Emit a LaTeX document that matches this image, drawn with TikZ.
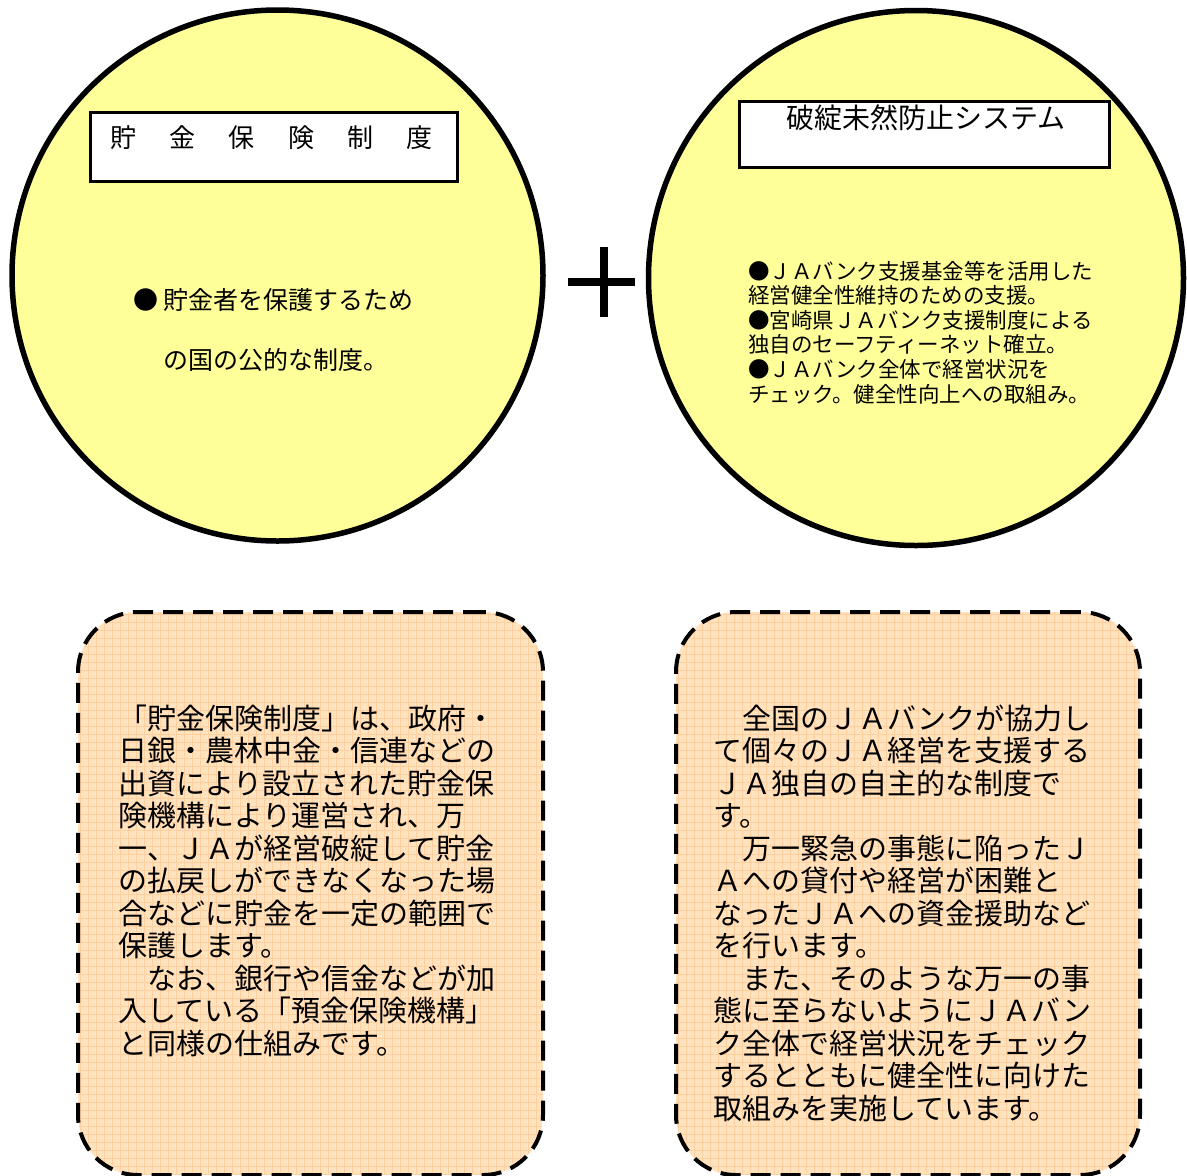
\documentclass[tikz,border=0pt]{standalone}
\usepackage{fontspec}
\newfontfamily\jp{Noto Sans CJK JP}
\definecolor{discyellow}{RGB}{255,255,153}
\definecolor{peach}{RGB}{255,226,190}
\definecolor{peachgrid}{RGB}{255,207,160}
\begin{document}
\begin{tikzpicture}[x=1pt,y=-1pt,
  yellowdisc/.style={circle,draw=black,line width=5.5pt,fill=discyellow,inner sep=0pt},
  titlebox/.style={rectangle,draw=black,line width=3pt,fill=white,inner sep=0pt},
  memobox/.style={rectangle,draw=black,line width=4pt,dash pattern=on 20pt off 10pt,rounded corners=60pt,inner sep=0pt,minimum height=563pt},
  memotext/.style={font=\jp\fontsize{29}{29}\selectfont,anchor=base west,inner sep=0pt},
  disctext/.style={font=\jp\fontsize{21.5}{21.5}\selectfont,anchor=base west,inner sep=0pt},
  leadtext/.style={font=\jp\fontsize{25}{25}\selectfont,anchor=base west,inner sep=0pt},
  gridline/.style={peachgrid,line width=1pt}]
\useasboundingbox (0,0) rectangle (1187,1176);

% circles
\node[yellowdisc,minimum size=531pt] (leftdisc) at (277.5,275.5) {};
\node[yellowdisc,minimum size=535pt] (rightdisc) at (916,278) {};

% title boxes
\node[titlebox,minimum width=367pt,minimum height=69pt] (lefttitlebox) at (274,147) {};
\node[font=\jp\fontsize{26}{26}\selectfont,anchor=base,inner sep=0pt] (lefttitle) at (271.5,147.5)
  {貯\hspace{33.4pt}金\hspace{33.4pt}保\hspace{33.4pt}険\hspace{33.4pt}制\hspace{33.4pt}度};
\node[titlebox,minimum width=370pt,minimum height=66pt] (righttitlebox) at (924.5,134.5) {};
\node[font=\jp\fontsize{28}{28}\selectfont,anchor=base,inner sep=0pt] (righttitle) at (926,128.5) {破綻未然防止システム};

% left disc text
\node[leadtext] (lead1) at (133,309.5) {● 貯金者を保護するため};
\node[leadtext] (lead2) at (163,369.5) {の国の公的な制度。};

% right disc text
\foreach \t [count=\i] in {{●ＪＡバンク支援基金等を活用した},{経営健全性維持のための支援。},{●宮崎県ＪＡバンク支援制度による},{独自のセーフティーネット確立。},{●ＪＡバンク全体で経営状況を},{チェック。健全性向上への取組み。}}
  \node[disctext] (disc\i) at ({748},{279+24.6*(\i-1)}) {\t};

% plus sign
\draw[line width=8pt] (568,282) -- (635,282);
\draw[line width=8pt] (604,247) -- (604,317);

% memo backgrounds
\begin{scope}
  \clip[rounded corners=60pt] (78,612) rectangle (543,1175);
  \fill[peach] (78,612) rectangle (543,1175);
  \foreach \gx in {80,88,...,543} \draw[gridline] (\gx,612) -- (\gx,1175);
  \foreach \gy in {614,622,...,1175} \draw[gridline] (78,\gy) -- (543,\gy);
\end{scope}
\begin{scope}
  \clip[rounded corners=60pt] (676,612) rectangle (1140,1175);
  \fill[peach] (676,612) rectangle (1140,1175);
  \foreach \gx in {678,686,...,1140} \draw[gridline] (\gx,612) -- (\gx,1175);
  \foreach \gy in {614,622,...,1175} \draw[gridline] (676,\gy) -- (1140,\gy);
\end{scope}
\node[memobox,minimum width=465pt] (leftmemo) at (310.5,893.5) {};
\node[memobox,minimum width=464pt] (rightmemo) at (908,893.5) {};

% memo texts
\foreach \t [count=\i] in {{「貯金保険制度」は、政府・},{日銀・農林中金・信連などの},{出資により設立された貯金保},{険機構により運営され、万},{一、ＪＡが経営破綻して貯金},{の払戻しができなくなった場},{合などに貯金を一定の範囲で},{保護します。},{　なお、銀行や信金などが加},{入している「預金保険機構」},{と同様の仕組みです。}}
  \node[memotext] (lefttext\i) at ({118},{729+32.5*(\i-1)}) {\t};
\foreach \t [count=\i] in {{　全国のＪＡバンクが協力し},{て個々のＪＡ経営を支援する},{ＪＡ独自の自主的な制度で},{す。},{　万一緊急の事態に陥ったＪ},{Ａへの貸付や経営が困難と},{なったＪＡへの資金援助など},{を行います。},{　また、そのような万一の事},{態に至らないようにＪＡバン},{ク全体で経営状況をチェック},{するとともに健全性に向けた},{取組みを実施しています。}}
  \node[memotext] (righttext\i) at ({713},{729+32.5*(\i-1)}) {\t};
\end{tikzpicture}
\end{document}
